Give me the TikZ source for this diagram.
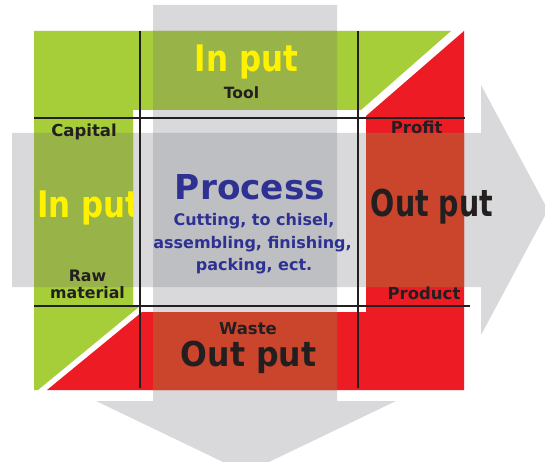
\documentclass[tikz,border=0pt]{standalone}
\usepackage{fontspec}
\usepackage{graphicx}
\setmainfont{DejaVu Sans}
\definecolor{grn}{HTML}{A6CE39}
\definecolor{grnov}{HTML}{98B449}
\definecolor{rd}{HTML}{ED1C24}
\definecolor{rdov}{HTML}{CB442C}
\definecolor{arr}{RGB}{130,132,138}
\definecolor{ylw}{HTML}{FFF200}
\definecolor{blu}{HTML}{2E3192}
\definecolor{blk}{HTML}{231F20}
\tikzset{
  lbl/.style={inner sep=0pt, anchor=base, text=blk, font=\bfseries\fontsize{16.5}{18}\selectfont},
  sub/.style={inner sep=0pt, anchor=base, text=blu, font=\bfseries\fontsize{16}{18}\selectfont},
  bigtxt/.style={inner sep=0pt, anchor=base, font=\bfseries},
  rule/.style={line width=2.5pt, draw=blk},
  flow/.style={fill=arr, fill opacity=0.3, draw=none},
}
\def\greenpath{(34,31) -- (451,31) -- (361,110) -- (133,110) -- (133,306) -- (140,306) -- (38,390) -- (34,390) -- cycle}
\def\redpath{(464,31) -- (464,390) -- (47,390) -- (142,312) -- (366,312) -- (366,116) -- cycle}
\def\downarrow{(153,5) -- (337,5) -- (337,401) -- (396,401) -- (246,473) -- (96,401) -- (153,401) -- cycle}
\def\rightarrow{(12,133) -- (481,133) -- (481,85) -- (548,210) -- (481,335) -- (481,287) -- (12,287) -- cycle}
\begin{document}
\begin{tikzpicture}[x=1pt,y=-1pt]
\clip (0,0) rectangle (545,462);
\fill[white] (0,0) rectangle (545,462);
% green L and red L
\fill[grn] \greenpath;
\fill[rd] \redpath;
% grey flow arrows (over white)
\fill[flow] \downarrow;
\fill[flow] \rightarrow;
% arrows over the coloured areas
\begin{scope}
\clip \downarrow;
\fill[grnov] \greenpath;
\fill[rdov] \redpath;
\end{scope}
\begin{scope}
\clip \rightarrow;
\fill[grnov] \greenpath;
\fill[rdov] \redpath;
\end{scope}
% grid lines
\coordinate (v1t) at (140,31); \coordinate (v1b) at (140,388);
\coordinate (v2t) at (358,31); \coordinate (v2b) at (358,388);
\coordinate (h1l) at (34,118); \coordinate (h1r) at (465,118);
\coordinate (h2l) at (34,306); \coordinate (h2r) at (470,306);
\draw[rule] (v1t) -- (v1b);
\draw[rule] (v2t) -- (v2b);
\draw[rule] (h1l) -- (h1r);
\draw[rule] (h2l) -- (h2r);
% left In put (cut off at the white box)
\begin{scope}
\clip (30,150) rectangle (133,240);
\node[bigtxt, text=ylw, anchor=base west] (inL) at (37,217) {\scalebox{0.845}[1]{\fontsize{36.6}{40}\selectfont In put}};
\end{scope}
% texts
\node[bigtxt, text=ylw] (inT) at (246.5,72) {\scalebox{0.845}[1]{\fontsize{36.6}{40}\selectfont In put}};
\node[lbl, font=\bfseries\fontsize{15.5}{18}\selectfont] (tool) at (241.5,99) {Tool};
\node[lbl] (cap) at (84,137) {Capital};
\node[lbl] (prof) at (416.7,134) {Profit};
\node[lbl, font=\bfseries\fontsize{15.8}{18}\selectfont] (raw) at (87.5,281) {Raw};
\node[lbl, font=\bfseries\fontsize{15.8}{18}\selectfont] (mat) at (87.5,298.3) {material};
\node[lbl] (prod) at (424,299.3) {Product};
\node[lbl] (waste) at (248,334) {Waste};
\node[bigtxt, text=blu, font=\bfseries\fontsize{34.3}{38}\selectfont] (proc) at (250,200) {Process};
\node[sub] (s1) at (254,225.7) {Cutting, to chisel,};
\node[sub] (s2) at (252.5,248) {assembling, finishing,};
\node[sub] (s3) at (254,270.5) {packing, ect.};
\node[bigtxt, text=blk] (outR) at (432,216.5) {\scalebox{0.77}[1]{\fontsize{37}{40}\selectfont Out put}};
\node[bigtxt, text=blk] (outB) at (248.5,366) {\scalebox{0.92}[1]{\fontsize{34.3}{38}\selectfont Out put}};
\end{tikzpicture}
\end{document}
